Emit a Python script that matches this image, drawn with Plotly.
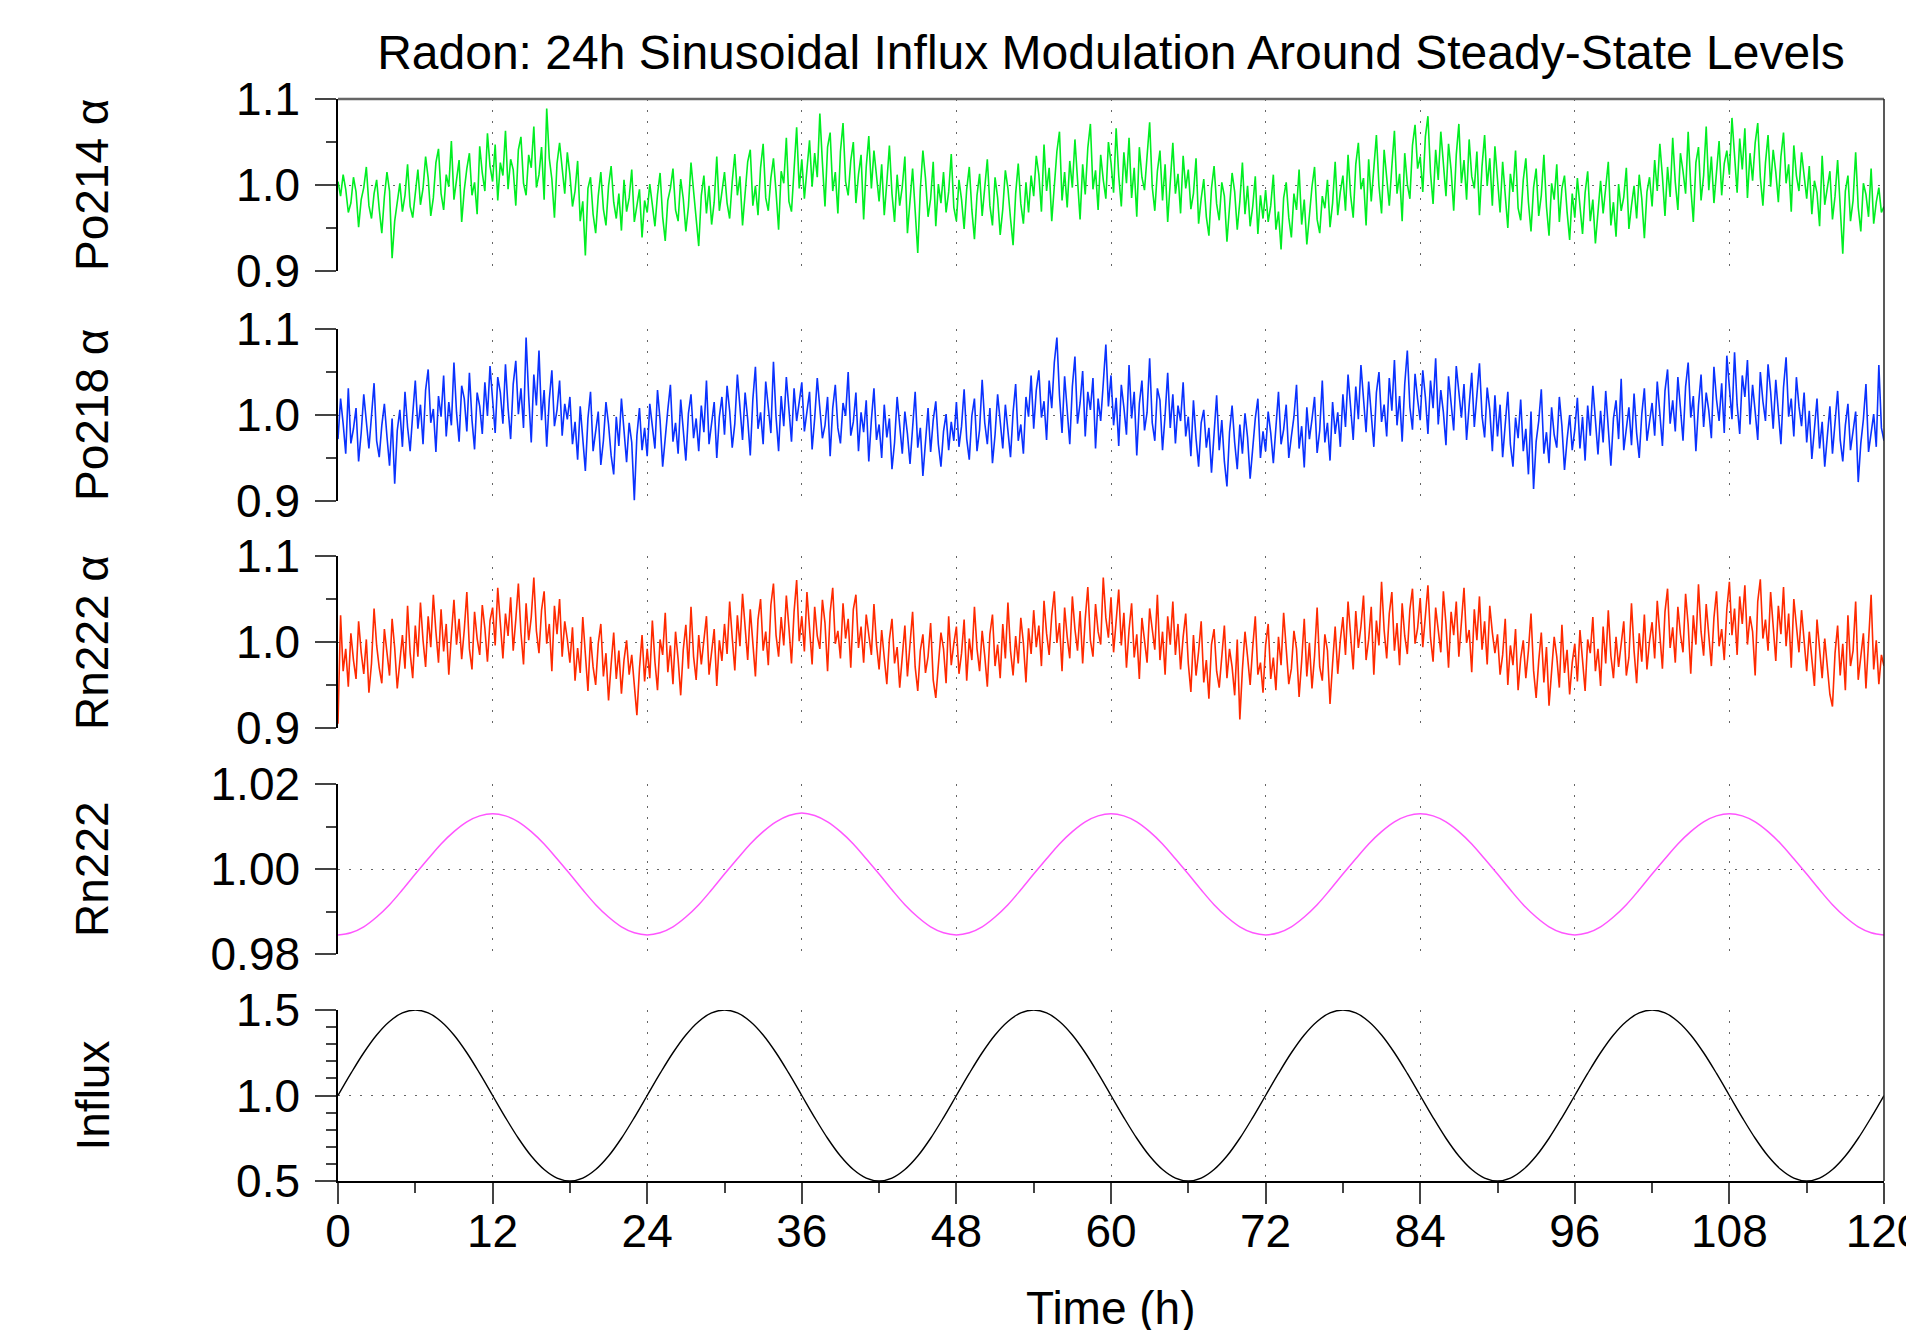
import plotly.graph_objects as go

# ---------------- data (one sample every 0.2 h) ----------------
po214_alpha = [
    1.004, 0.987, 1.012, 0.995, 0.968, 0.979, 1.009, 0.992, 0.951, 0.983, 0.997, 1.021, 0.976, 0.961, 0.990, 1.006, 0.972, 0.944, 0.986, 1.015, 0.993, 0.915, 0.958, 0.980, 1.002, 0.969, 0.988, 1.024, 0.975, 0.962,
    0.991, 1.018, 0.977, 0.996, 1.033, 1.008, 0.964, 0.985, 1.026, 1.042, 0.990, 0.971, 1.012, 0.998, 1.051, 0.983, 1.006, 1.029, 0.957, 0.994, 1.019, 1.037, 0.988, 1.003, 0.966, 1.045, 1.014, 0.993, 1.060, 1.022,
    1.004, 1.047, 0.982, 1.026, 1.011, 1.063, 0.995, 1.030, 1.018, 0.976, 1.041, 1.056, 1.002, 0.988, 1.035, 1.020, 1.068, 0.997, 1.012, 1.044, 0.983, 1.089, 1.031, 1.007, 0.962, 1.025, 1.049, 1.016, 0.990, 1.038,
    1.012, 0.975, 0.993, 1.028, 0.958, 0.981, 0.918, 0.996, 1.009, 0.966, 0.944, 0.987, 1.015, 0.972, 0.953, 0.999, 1.022, 0.980, 0.961, 0.990, 0.947, 1.006, 0.969, 0.985, 1.018, 0.957, 0.974, 0.995, 0.939, 0.982,
    0.968, 1.001, 0.977, 0.952, 0.989, 1.014, 0.963, 0.935, 0.982, 0.996, 1.019, 0.971, 0.958, 1.007, 0.984, 0.946, 0.975, 1.026, 0.993, 0.960, 0.929, 0.988, 1.011, 0.967, 0.999, 0.954, 0.980, 1.033, 0.970, 0.992,
    1.015, 0.979, 0.961, 1.004, 1.036, 0.988, 1.010, 0.953, 0.994, 1.027, 1.041, 0.976, 0.999, 0.965, 1.020, 1.048, 0.985, 0.970, 1.008, 1.031, 0.992, 0.948, 1.016, 1.002, 1.055, 0.981, 0.969, 1.024, 1.067, 0.996,
    1.030, 0.984, 1.018, 1.052, 0.998, 1.037, 1.009, 1.083, 1.026, 0.975, 1.044, 1.061, 0.993, 1.015, 0.967, 1.039, 1.072, 1.004, 0.988, 1.028, 1.050, 0.979, 1.012, 1.035, 0.960, 1.021, 1.057, 0.996, 1.040, 1.006,
    0.981, 1.024, 0.965, 1.003, 1.046, 0.990, 0.957, 1.012, 0.976, 0.998, 1.033, 0.944, 0.987, 1.019, 0.970, 0.921, 0.995, 1.040, 1.008, 0.963, 0.984, 1.027, 0.952, 1.001, 0.979, 1.015, 0.968, 0.992, 1.036, 0.974,
    0.958, 1.006, 0.983, 0.949, 0.995, 1.021, 0.971, 0.937, 0.988, 1.013, 0.964, 0.999, 1.030, 0.976, 0.953, 1.009, 0.985, 0.942, 0.972, 1.017, 0.996, 0.961, 0.930, 0.990, 1.025, 0.978, 0.955, 1.003, 0.968, 1.011,
    0.987, 1.034, 1.012, 0.969, 1.047, 0.993, 1.020, 0.958, 1.001, 1.039, 1.062, 0.982, 1.015, 0.974, 1.028, 0.997, 1.053, 1.008, 0.960, 1.024, 0.989, 1.043, 1.071, 0.995, 1.017, 0.971, 1.035, 1.006, 0.984, 1.050,
    1.026, 0.991, 1.066, 1.011, 0.975, 1.038, 1.002, 1.055, 0.985, 1.020, 0.963, 1.044, 1.009, 0.994, 1.031, 1.073, 0.998, 0.970, 1.016, 1.040, 0.982, 1.024, 0.957, 1.006, 1.049, 0.990, 1.013, 0.967, 1.034, 0.996,
    1.018, 0.972, 0.990, 1.031, 0.955, 0.984, 1.007, 0.963, 0.941, 0.996, 1.022, 0.978, 0.959, 1.003, 0.987, 0.934, 0.970, 1.014, 0.992, 0.948, 0.981, 1.026, 0.966, 0.999, 0.952, 0.975, 1.010, 0.943, 0.988, 0.961,
    0.994, 0.957, 0.976, 1.012, 0.948, 0.969, 0.925, 0.985, 1.003, 0.962, 0.939, 0.990, 0.971, 1.018, 0.954, 0.983, 0.931, 0.967, 0.998, 1.021, 0.960, 0.944, 0.987, 0.973, 1.006, 0.951, 0.979, 1.027, 0.965, 0.992,
    1.011, 0.970, 1.035, 0.988, 0.962, 1.024, 1.049, 0.995, 1.008, 0.953, 1.030, 0.981, 1.016, 1.058, 0.999, 0.967, 1.041, 1.004, 0.976, 1.022, 1.063, 0.990, 1.013, 0.958, 1.037, 1.001, 0.984, 1.046, 1.070, 1.019,
    1.033, 0.992, 1.056, 1.080, 1.014, 0.978, 1.041, 1.006, 1.062, 1.025, 0.987, 1.048, 1.017, 0.970, 1.035, 1.071, 1.002, 1.029, 0.983, 1.053, 1.010, 0.996, 1.039, 0.965, 1.022, 1.058, 0.999, 1.031, 0.976, 1.045,
    1.004, 0.968, 1.027, 0.985, 0.950, 1.013, 0.992, 1.040, 0.973, 0.959, 1.006, 1.031, 0.980, 0.946, 0.997, 1.019, 0.964, 0.988, 1.035, 0.975, 0.941, 1.002, 0.983, 1.024, 0.957, 0.996, 1.011, 0.969, 0.936, 0.990,
    0.962, 1.008, 0.977, 0.943, 0.991, 1.016, 0.958, 0.983, 0.932, 0.974, 1.005, 0.967, 0.995, 1.027, 0.953, 0.980, 0.940, 1.001, 0.970, 0.986, 1.020, 0.949, 0.976, 0.999, 0.961, 1.012, 0.984, 0.938, 0.992, 1.009,
    0.975, 1.029, 0.993, 1.048, 1.010, 0.964, 1.021, 0.986, 1.055, 1.003, 0.971, 1.037, 1.016, 0.990, 1.062, 0.998, 0.957, 1.026, 1.044, 0.982, 1.011, 1.068, 0.994, 1.033, 0.979, 1.019, 1.051, 0.988, 1.025, 1.040,
    1.012, 1.078, 1.030, 0.991, 1.054, 1.018, 1.066, 0.985, 1.037, 1.005, 1.049, 1.072, 1.009, 0.976, 1.026, 1.058, 0.998, 1.041, 1.015, 0.980, 1.033, 1.061, 1.002, 1.024, 0.969, 1.046, 1.011, 0.993, 1.038, 1.007,
    0.984, 1.022, 0.966, 1.005, 0.991, 0.952, 1.034, 0.977, 0.998, 1.016, 0.960, 0.987, 1.029, 0.970, 0.920, 0.993, 1.011, 0.958, 0.982, 1.038, 0.974, 0.946, 1.002, 0.989, 0.963, 1.019, 0.955, 0.980, 0.997, 0.968,
    0.975,
]

po218_alpha = [
    0.972, 1.019, 0.990, 0.955, 1.031, 0.967, 0.984, 1.008, 0.946, 0.979, 1.024, 0.993, 0.961, 0.999, 1.037, 0.970, 0.951, 0.988, 1.013, 0.975, 0.941, 0.996, 0.920, 0.982, 1.006, 0.963, 1.027, 0.986, 0.958, 1.001,
    1.040, 0.984, 1.012, 0.966, 1.029, 1.053, 0.991, 1.007, 0.957, 1.022, 0.998, 1.046, 0.975, 1.015, 0.988, 1.061, 1.003, 0.969, 1.034, 1.019, 0.981, 1.049, 0.994, 0.960, 1.026, 1.010, 0.978, 1.038, 0.999, 1.057,
    1.015, 0.979, 1.044, 1.026, 0.990, 1.059, 1.008, 0.972, 1.036, 1.063, 1.001, 1.031, 0.985, 1.090, 1.022, 0.968, 1.047, 1.011, 1.075, 0.994, 1.029, 0.963, 1.018, 1.052, 0.987, 1.006, 1.040, 0.976, 1.013, 0.995,
    1.021, 0.966, 0.992, 0.948, 1.010, 0.977, 0.935, 0.996, 1.027, 0.958, 0.983, 1.004, 0.942, 0.970, 1.015, 0.989, 0.953, 0.931, 0.998, 0.964, 1.019, 0.980, 0.945, 0.991, 0.968, 0.901, 0.976, 1.008, 0.959, 0.985,
    0.952, 1.013, 0.987, 0.961, 1.029, 0.994, 0.940, 0.978, 1.006, 1.035, 0.969, 0.991, 0.955, 1.018, 0.983, 0.947, 1.002, 1.024, 0.973, 0.996, 0.958, 1.011, 0.980, 1.040, 0.966, 0.989, 1.015, 0.950, 0.998, 1.021,
    0.977, 1.034, 1.005, 0.962, 0.990, 1.047, 1.012, 0.971, 1.026, 0.995, 0.953, 1.018, 1.056, 0.984, 1.003, 0.966, 1.039, 1.010, 0.979, 1.062, 0.998, 0.958, 1.022, 0.987, 1.044, 1.007, 0.969, 1.031, 0.993, 1.015,
    1.038, 0.981, 1.004, 1.027, 0.960, 0.996, 1.043, 1.011, 0.973, 0.988, 1.021, 0.952, 1.008, 1.035, 0.985, 0.967, 1.014, 0.999, 1.050, 0.976, 0.992, 1.026, 0.958, 1.003, 0.980, 1.017, 0.946, 0.994, 1.031, 0.971,
    0.989, 0.950, 1.012, 0.974, 0.996, 0.937, 0.968, 1.021, 0.983, 0.955, 1.004, 0.978, 0.943, 0.991, 1.027, 0.962, 0.985, 0.929, 0.973, 1.008, 0.957, 0.994, 1.016, 0.966, 0.940, 0.981, 1.001, 0.959, 0.992, 0.970,
    1.015, 0.963, 0.987, 1.030, 0.972, 0.948, 0.999, 1.019, 0.958, 0.983, 1.041, 0.991, 0.966, 1.008, 0.944, 0.977, 1.024, 0.995, 0.961, 1.012, 0.982, 0.951, 1.003, 1.036, 0.970, 0.989, 0.955, 1.021, 0.998, 1.046,
    0.984, 1.029, 1.052, 0.997, 1.016, 0.971, 1.040, 1.008, 1.061, 1.090, 1.023, 0.979, 1.045, 1.002, 0.966, 1.033, 1.068, 0.990, 1.014, 1.051, 0.975, 1.027, 1.006, 1.043, 0.961, 1.019, 0.993, 1.037, 1.082, 1.010,
    1.046, 0.988, 1.020, 0.964, 1.035, 1.009, 0.977, 1.058, 0.996, 1.027, 0.953, 1.013, 1.040, 0.982, 1.003, 1.066, 0.991, 0.970, 1.031, 1.017, 0.959, 1.000, 1.049, 0.985, 1.024, 0.967, 1.011, 0.993, 1.038, 0.975,
    0.998, 0.952, 1.017, 0.973, 0.940, 0.991, 1.006, 0.962, 0.985, 0.933, 0.977, 1.023, 0.959, 0.994, 0.946, 0.917, 0.980, 1.011, 0.968, 0.937, 0.989, 0.955, 1.002, 0.974, 0.926, 0.963, 0.996, 1.019, 0.950, 0.981,
    0.958, 1.004, 0.979, 0.944, 0.992, 1.027, 0.966, 0.983, 1.012, 0.950, 0.975, 0.998, 1.035, 0.961, 0.987, 0.939, 1.009, 0.972, 0.995, 1.021, 0.956, 0.982, 1.040, 0.968, 0.991, 0.947, 1.015, 0.978, 1.003, 0.963,
    1.024, 0.986, 1.047, 1.010, 0.971, 1.033, 0.995, 1.058, 1.016, 0.980, 1.039, 1.001, 0.963, 1.026, 1.050, 0.992, 1.012, 0.975, 1.043, 1.005, 1.064, 0.988, 1.022, 0.969, 1.036, 1.075, 1.009, 0.983, 1.048, 1.018,
    0.994, 1.052, 1.021, 0.978, 1.040, 1.008, 1.066, 0.989, 1.029, 1.003, 0.965, 1.045, 1.014, 0.982, 1.057, 1.025, 0.997, 1.036, 0.971, 1.011, 1.049, 0.986, 1.019, 1.060, 0.999, 0.974, 1.032, 1.006, 0.958, 1.023,
    0.975, 1.012, 0.951, 0.989, 1.027, 0.966, 0.940, 0.997, 0.973, 1.018, 0.958, 0.984, 0.931, 1.004, 0.914, 0.969, 0.993, 1.030, 0.955, 0.980, 0.944, 1.009, 0.977, 0.962, 1.021, 0.987, 0.936, 0.971, 1.000, 0.959,
    0.983, 1.020, 0.961, 0.998, 0.947, 1.011, 0.976, 1.034, 0.990, 0.954, 1.005, 0.968, 1.028, 0.985, 0.941, 0.996, 1.017, 0.972, 1.042, 0.959, 0.988, 1.009, 0.965, 1.025, 0.979, 0.950, 1.001, 1.031, 0.970, 0.993,
    1.014, 0.976, 1.039, 1.002, 0.964, 1.028, 1.053, 0.990, 1.017, 0.981, 1.044, 1.008, 0.970, 1.033, 1.061, 0.997, 1.022, 0.958, 1.011, 1.047, 0.986, 1.026, 1.005, 0.973, 1.056, 1.018, 0.993, 1.037, 0.979, 1.069,
    1.030, 0.995, 1.073, 1.012, 0.978, 1.046, 1.021, 1.064, 0.989, 1.035, 1.004, 0.971, 1.050, 1.016, 0.993, 1.059, 1.027, 0.984, 1.041, 1.008, 0.966, 1.032, 1.067, 0.998, 1.019, 0.975, 1.044, 1.010, 0.987, 1.026,
    0.968, 1.005, 0.949, 0.984, 1.019, 0.961, 0.992, 0.940, 0.976, 1.010, 0.955, 0.997, 1.028, 0.971, 0.946, 0.988, 1.013, 0.959, 0.982, 1.004, 0.922, 0.967, 0.995, 1.036, 0.957, 0.979, 1.001, 0.963, 1.058, 0.985,
    0.970,
]

rn222_alpha = [
    0.905, 1.031, 0.966, 0.992, 0.948, 1.010, 0.979, 0.957, 1.024, 0.988, 0.963, 1.003, 0.941, 0.975, 1.039, 0.996, 0.970, 0.952, 1.015, 0.984, 0.961, 1.027, 0.993, 0.946, 0.980, 1.008, 0.969, 1.042, 0.987, 0.958,
    1.019, 0.983, 1.046, 1.002, 0.971, 1.030, 0.994, 1.055, 1.012, 0.976, 1.038, 0.989, 1.021, 0.962, 1.008, 1.049, 0.997, 1.027, 0.980, 1.014, 1.058, 0.992, 0.968, 1.035, 1.004, 0.985, 1.043, 1.016, 0.977, 1.025,
    1.040, 0.996, 1.063, 1.018, 0.981, 1.033, 1.007, 1.052, 0.990, 1.026, 1.068, 1.011, 0.974, 1.045, 1.002, 1.029, 1.075, 1.013, 0.987, 1.037, 1.059, 0.998, 1.021, 0.966, 1.042, 1.009, 1.050, 0.983, 1.024, 1.003,
    0.976, 1.017, 0.955, 0.993, 0.964, 1.029, 0.982, 0.943, 1.006, 0.971, 0.950, 0.998, 1.021, 0.960, 0.987, 0.932, 0.974, 1.011, 0.957, 0.990, 0.940, 0.979, 1.002, 0.962, 0.985, 0.946, 0.915, 0.969, 1.008, 0.954,
    0.992, 0.958, 1.025, 0.977, 0.944, 1.003, 0.985, 1.034, 0.965, 0.996, 0.951, 1.012, 0.980, 0.938, 0.991, 1.020, 0.969, 1.041, 0.983, 0.956, 1.008, 0.974, 0.999, 1.030, 0.962, 0.988, 1.015, 0.949, 1.002, 0.978,
    1.021, 0.986, 1.047, 1.005, 0.967, 1.031, 0.995, 1.056, 1.014, 0.979, 1.038, 1.002, 0.960, 1.026, 1.050, 0.990, 1.012, 0.973, 1.043, 1.068, 1.008, 0.983, 1.029, 0.996, 1.054, 1.017, 0.975, 1.035, 1.072, 1.001,
    1.030, 0.989, 1.058, 1.016, 0.974, 1.041, 1.007, 0.992, 1.049, 1.022, 0.966, 1.034, 1.063, 0.998, 1.013, 0.981, 1.045, 1.004, 1.027, 0.970, 1.038, 1.055, 0.993, 1.018, 0.976, 1.032, 1.009, 0.985, 1.044, 0.997,
    0.968, 1.014, 0.982, 0.951, 1.003, 1.027, 0.975, 0.994, 0.947, 0.986, 1.019, 0.960, 0.999, 1.035, 0.971, 0.943, 0.990, 1.009, 0.964, 0.983, 1.022, 0.956, 0.935, 0.978, 1.011, 0.992, 0.952, 1.030, 0.973, 0.998,
    1.018, 0.963, 0.987, 1.026, 0.955, 1.004, 0.979, 1.041, 0.992, 0.966, 1.013, 0.984, 0.948, 1.009, 1.032, 0.972, 0.997, 0.958, 1.021, 0.981, 1.046, 0.990, 0.961, 1.007, 0.975, 1.028, 0.999, 0.953, 1.016, 0.986,
    1.037, 0.994, 1.019, 0.972, 1.048, 1.010, 0.985, 1.031, 1.059, 0.999, 1.022, 0.966, 1.040, 1.006, 0.981, 1.053, 1.015, 0.990, 1.036, 0.975, 1.027, 1.064, 1.002, 0.983, 1.044, 1.012, 0.997, 1.075, 1.028, 1.005,
    1.052, 0.988, 1.023, 1.061, 0.996, 1.034, 0.970, 1.014, 1.045, 0.982, 1.009, 0.957, 1.028, 1.003, 0.976, 1.039, 1.018, 0.991, 1.055, 0.979, 1.012, 0.962, 1.030, 0.997, 1.047, 0.985, 1.021, 0.968, 1.006, 1.033,
    0.975, 0.942, 1.008, 0.961, 0.989, 1.024, 0.953, 0.979, 0.934, 0.997, 1.015, 0.966, 0.947, 0.985, 1.019, 0.958, 0.992, 0.971, 0.938, 1.003, 0.910, 0.968, 1.012, 0.983, 0.950, 0.994, 1.030, 0.962, 0.976, 0.941,
    0.996, 1.021, 0.957, 0.982, 0.944, 1.006, 0.973, 1.034, 0.988, 0.951, 0.969, 1.013, 0.992, 0.936, 0.978, 1.027, 0.960, 0.999, 0.946, 0.984, 1.040, 0.971, 0.955, 1.009, 0.990, 0.928, 0.975, 1.018, 0.963, 1.002,
    1.029, 0.985, 1.047, 1.010, 0.968, 1.036, 0.993, 1.018, 1.054, 0.979, 1.003, 1.041, 0.962, 1.025, 0.996, 1.070, 1.014, 0.981, 1.033, 1.058, 0.990, 1.022, 0.973, 1.045, 1.007, 0.986, 1.038, 1.062, 0.998, 1.016,
    1.051, 0.994, 1.028, 1.066, 1.005, 0.977, 1.040, 1.017, 0.988, 1.059, 1.021, 0.970, 1.035, 1.008, 1.047, 0.983, 1.026, 1.063, 0.999, 1.014, 0.965, 1.038, 1.002, 1.053, 0.991, 1.024, 0.974, 1.042, 1.011, 0.987,
    1.009, 0.962, 0.985, 1.027, 0.950, 0.996, 0.973, 1.015, 0.944, 0.981, 1.002, 0.958, 0.990, 1.033, 0.967, 0.935, 0.978, 1.011, 0.953, 0.994, 0.926, 0.970, 1.006, 0.983, 0.947, 1.020, 0.964, 0.991, 0.939, 0.976,
    0.998, 0.954, 1.014, 0.979, 0.943, 1.003, 0.987, 1.029, 0.966, 0.992, 0.949, 1.018, 0.975, 1.037, 0.984, 0.958, 1.006, 0.971, 0.995, 1.024, 0.961, 0.982, 1.045, 0.990, 0.952, 1.010, 0.977, 1.032, 0.968, 1.001,
    1.023, 0.981, 1.048, 1.006, 0.969, 1.035, 1.062, 0.993, 1.017, 0.976, 1.041, 1.009, 0.988, 1.056, 1.020, 0.963, 1.031, 0.997, 1.067, 1.012, 0.984, 1.044, 1.003, 0.972, 1.028, 1.059, 0.995, 1.015, 0.979, 1.038,
    1.070, 1.008, 1.039, 0.985, 1.053, 1.021, 1.066, 0.997, 1.030, 1.012, 0.961, 1.047, 1.073, 1.004, 1.026, 0.990, 1.058, 1.016, 0.978, 1.042, 1.009, 1.064, 0.995, 1.033, 0.970, 1.050, 1.018, 0.988, 1.037, 1.001,
    0.966, 1.012, 0.980, 0.949, 1.026, 0.993, 0.958, 1.004, 0.975, 0.939, 0.925, 0.987, 1.019, 0.961, 0.998, 0.944, 1.031, 0.972, 0.990, 1.047, 0.956, 0.983, 1.010, 0.946, 0.995, 1.055, 0.968, 1.002, 0.951, 0.985,
    0.972,
]

# hourly samples of the smooth curves
rn222 = [
    0.9845, 0.9850, 0.9864, 0.9887, 0.9916, 0.9951, 0.9988, 1.0024, 1.0059, 1.0088, 1.0111, 1.0125, 1.0130, 1.0125, 1.0111, 1.0088, 1.0059, 1.0024, 0.9988, 0.9951, 0.9916, 0.9887, 0.9864, 0.9850,
    0.9845, 0.9850, 0.9864, 0.9887, 0.9916, 0.9951, 0.9988, 1.0024, 1.0059, 1.0088, 1.0111, 1.0126, 1.0132, 1.0126, 1.0111, 1.0088, 1.0059, 1.0024, 0.9988, 0.9951, 0.9916, 0.9887, 0.9864, 0.9850,
    0.9845, 0.9850, 0.9864, 0.9887, 0.9916, 0.9951, 0.9988, 1.0024, 1.0059, 1.0088, 1.0111, 1.0125, 1.0130, 1.0125, 1.0111, 1.0088, 1.0059, 1.0024, 0.9988, 0.9951, 0.9916, 0.9887, 0.9864, 0.9850,
    0.9845, 0.9850, 0.9864, 0.9887, 0.9916, 0.9951, 0.9988, 1.0024, 1.0059, 1.0088, 1.0111, 1.0125, 1.0130, 1.0125, 1.0111, 1.0088, 1.0059, 1.0024, 0.9988, 0.9951, 0.9916, 0.9887, 0.9864, 0.9850,
    0.9845, 0.9850, 0.9864, 0.9887, 0.9916, 0.9951, 0.9988, 1.0024, 1.0059, 1.0088, 1.0111, 1.0125, 1.0130, 1.0125, 1.0111, 1.0088, 1.0059, 1.0024, 0.9988, 0.9951, 0.9916, 0.9887, 0.9864, 0.9850,
    0.9845,
]

influx = [
    1.000, 1.129, 1.250, 1.354, 1.433, 1.483, 1.500, 1.483, 1.433, 1.354, 1.250, 1.129, 1.000, 0.871, 0.750, 0.646, 0.567, 0.517, 0.500, 0.517, 0.567, 0.646, 0.750, 0.871,
    1.000, 1.129, 1.250, 1.354, 1.433, 1.483, 1.500, 1.483, 1.433, 1.354, 1.250, 1.129, 1.000, 0.871, 0.750, 0.646, 0.567, 0.517, 0.500, 0.517, 0.567, 0.646, 0.750, 0.871,
    1.000, 1.129, 1.250, 1.354, 1.433, 1.483, 1.500, 1.483, 1.433, 1.354, 1.250, 1.129, 1.000, 0.871, 0.750, 0.646, 0.567, 0.517, 0.500, 0.517, 0.567, 0.646, 0.750, 0.871,
    1.000, 1.129, 1.250, 1.354, 1.433, 1.483, 1.500, 1.483, 1.433, 1.354, 1.250, 1.129, 1.000, 0.871, 0.750, 0.646, 0.567, 0.517, 0.500, 0.517, 0.567, 0.646, 0.750, 0.871,
    1.000, 1.129, 1.250, 1.354, 1.433, 1.483, 1.500, 1.483, 1.433, 1.354, 1.250, 1.129, 1.000, 0.871, 0.750, 0.646, 0.567, 0.517, 0.500, 0.517, 0.567, 0.646, 0.750, 0.871,
    1.000,
]

assert len(po214_alpha) == len(po218_alpha) == len(rn222_alpha) == 601
assert len(rn222) == len(influx) == 121

# time axes (hours)
time_noisy = [round(i * 0.2, 1) for i in range(len(po214_alpha))]
time_smooth = [float(i) for i in range(len(influx))]

x_tick_vals = [0, 12, 24, 36, 48, 60, 72, 84, 96, 108, 120]
x_tick_text = ["0", "12", "24", "36", "48", "60", "72", "84", "96", "108", "120"]
x_minor_vals = [6, 18, 30, 42, 54, 66, 78, 90, 102, 114]

panel_titles = ["Po214 α", "Po218 α", "Rn222 α", "Rn222", "Influx"]
y_ranges = [[0.9, 1.1], [0.9, 1.1], [0.9, 1.1], [0.98, 1.02], [0.5, 1.5]]
y_tick_vals = [[0.9, 1.0, 1.1], [0.9, 1.0, 1.1], [0.9, 1.0, 1.1], [0.98, 1.00, 1.02], [0.5, 1.0, 1.5]]
y_tick_text = [["0.9", "1.0", "1.1"], ["0.9", "1.0", "1.1"], ["0.9", "1.0", "1.1"],
               ["0.98", "1.00", "1.02"], ["0.5", "1.0", "1.5"]]
y_minor_vals = [[0.95, 1.05], [0.95, 1.05], [0.95, 1.05], [0.99, 1.01],
                [0.6, 0.7, 0.8, 0.9, 1.1, 1.2, 1.3, 1.4]]

series_x = [time_noisy, time_noisy, time_noisy, time_smooth, time_smooth]
series_y = [po214_alpha, po218_alpha, rn222_alpha, rn222, influx]
colors = ["#00ee22", "#0a32ff", "#ff2a00", "#ff55ff", "#000000"]
line_widths = [1.6, 1.6, 1.6, 1.5, 1.4]
line_shapes = ["linear", "linear", "linear", "spline", "spline"]

# ---------------- layout geometry ----------------
# the page body adds an 8 px offset; target positions below are page pixels
OFF = 8
W, H = 1914 - OFF, 1330 - OFF
plot_left, plot_right, plot_top, plot_bottom = 338 - OFF, 1884 - OFF, 99 - OFF, 1181 - OFF
ML, MR, MT, MB = plot_left, W - plot_right, plot_top, H - plot_bottom
PH = plot_bottom - plot_top
PW = plot_right - plot_left
panel_px = [(99, 271), (329, 501), (556, 728), (784, 954), (1010, 1181)]

FONT = "Liberation Sans, Arial, Helvetica, sans-serif"
TICK_FS = 46
GRID_COLOR = "#666666"
GRID_DASH = "1.6px,9.4px"
TICK_COLOR = "#444444"

fig = go.Figure()
layout = dict(
    width=W, height=H,
    margin=dict(l=ML, r=MR, t=MT, b=MB, pad=0, autoexpand=False),
    paper_bgcolor="white", plot_bgcolor="white",
    showlegend=False,
    font=dict(family=FONT, size=TICK_FS, color="black"),
    title=dict(text="Radon: 24h Sinusoidal Influx Modulation Around Steady-State Levels",
               x=0.5, xref="paper", xanchor="center",
               y=1 - (52 - OFF) / H, yref="container", yanchor="middle",
               font=dict(family=FONT, size=48, color="black")),
)

annotations = []
for i in range(5):
    xs = "" if i == 0 else str(i + 1)
    xname, yname = "x" + xs, "y" + xs
    top, bot = panel_px[i]
    top, bot = top - OFF, bot - OFF
    dom = [(plot_bottom - bot) / PH, (plot_bottom - top) / PH]
    last = (i == 4)

    fig.add_trace(go.Scatter(
        x=series_x[i], y=series_y[i], mode="lines",
        line=dict(color=colors[i], width=line_widths[i], shape=line_shapes[i]),
        xaxis=xname, yaxis=yname, hoverinfo="skip"))

    xa = dict(domain=[0, 1], range=[0, 120], anchor=yname, automargin=False,
              tickmode="array", tickvals=x_tick_vals, ticktext=x_tick_text,
              showgrid=True, gridcolor=GRID_COLOR, gridwidth=1.3, griddash=GRID_DASH,
              zeroline=False, fixedrange=True)
    if i > 0:
        xa["matches"] = "x"
    if last:
        xa.update(showline=True, linecolor="#000000", linewidth=1.5,
                  ticks="outside", ticklen=21, tickwidth=1.5, tickcolor=TICK_COLOR,
                  showticklabels=True, ticklabeloverflow="allow", ticklabelstandoff=-12,
                  tickfont=dict(family=FONT, size=TICK_FS, color="black"),
                  minor=dict(tickmode="array", tickvals=x_minor_vals, ticks="outside",
                             ticklen=10, tickwidth=1.5, tickcolor=TICK_COLOR, showgrid=False))
    else:
        xa.update(showline=False, ticks="", showticklabels=False)

    ya = dict(domain=dom, range=y_ranges[i], anchor=xname, automargin=False,
              tickmode="array", tickvals=y_tick_vals[i], ticktext=y_tick_text[i],
              showline=True, linecolor="#000000", linewidth=1.5,
              ticks="outside", ticklen=21, tickwidth=1.5, tickcolor=TICK_COLOR,
              ticklabelstandoff=6,
              tickfont=dict(family=FONT, size=TICK_FS, color="black"),
              showgrid=True, gridcolor=GRID_COLOR, gridwidth=1.3, griddash=GRID_DASH,
              zeroline=False, fixedrange=True,
              minor=dict(tickmode="array", tickvals=y_minor_vals[i], ticks="outside",
                         ticklen=10, tickwidth=1.5, tickcolor=TICK_COLOR, showgrid=False))

    layout["xaxis" + xs] = xa
    layout["yaxis" + xs] = ya

    annotations.append(dict(
        text=panel_titles[i], textangle=-90, showarrow=False,
        xref="paper", yref="paper",
        x=(92 - OFF - plot_left) / PW, y=(dom[0] + dom[1]) / 2,
        xanchor="center", yanchor="middle",
        font=dict(family=FONT, size=TICK_FS, color="black")))

annotations.append(dict(
    text="Time (h)", showarrow=False, xref="paper", yref="paper",
    x=0.5, y=-((1308 - OFF) - plot_bottom) / PH, xanchor="center", yanchor="middle",
    font=dict(family=FONT, size=TICK_FS, color="black")))

layout["annotations"] = annotations
layout["shapes"] = [
    dict(type="line", xref="paper", yref="paper", x0=0, x1=1, y0=1, y1=1,
         line=dict(color="#666666", width=2.5), layer="above"),
    dict(type="line", xref="paper", yref="paper", x0=1, x1=1, y0=0, y1=1,
         line=dict(color="#222222", width=1.5), layer="above"),
]

fig.update_layout(**layout)
fig.write_html("out.html")
